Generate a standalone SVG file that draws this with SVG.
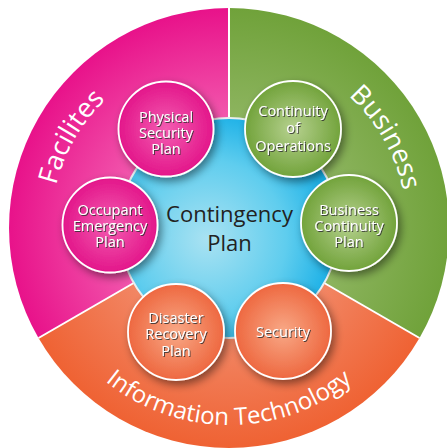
<svg xmlns="http://www.w3.org/2000/svg" width="447" height="448" viewBox="0 0 447 448">
  <defs>
    <radialGradient id="gPink" gradientUnits="userSpaceOnUse" cx="229" cy="228" r="220">
      <stop offset="0.5" stop-color="#f257ad"/>
      <stop offset="1" stop-color="#e8128a"/>
    </radialGradient>
    <radialGradient id="gGreen" gradientUnits="userSpaceOnUse" cx="229" cy="228" r="220">
      <stop offset="0.5" stop-color="#8db45f"/>
      <stop offset="1" stop-color="#70a23a"/>
    </radialGradient>
    <radialGradient id="gOrange" gradientUnits="userSpaceOnUse" cx="229" cy="228" r="220">
      <stop offset="0.5" stop-color="#f28664"/>
      <stop offset="1" stop-color="#ef6233"/>
    </radialGradient>
    <radialGradient id="gBlue" cx="0.4" cy="0.55" r="0.6">
      <stop offset="0" stop-color="#a9e2f2"/>
      <stop offset="0.6" stop-color="#5fcdee"/>
      <stop offset="1" stop-color="#16aee6"/>
    </radialGradient>
    <radialGradient id="cPink" cx="0.5" cy="0.5" r="0.5">
      <stop offset="0" stop-color="#f35cb1"/>
      <stop offset="1" stop-color="#e3168a"/>
    </radialGradient>
    <radialGradient id="cGreen" cx="0.5" cy="0.5" r="0.5">
      <stop offset="0" stop-color="#b6d18f"/>
      <stop offset="1" stop-color="#72a33b"/>
    </radialGradient>
    <radialGradient id="cOrange" cx="0.5" cy="0.5" r="0.5">
      <stop offset="0" stop-color="#f8a886"/>
      <stop offset="1" stop-color="#ee6840"/>
    </radialGradient>
    <filter id="shadow" x="-30%" y="-30%" width="170%" height="170%">
      <feDropShadow dx="3" dy="4" stdDeviation="4" flood-color="#000" flood-opacity="0.45"/>
    </filter>
    <filter id="tshadow" x="-10%" y="-30%" width="130%" height="160%">
      <feDropShadow dx="1" dy="1" stdDeviation="0.4" flood-color="#333" flood-opacity="0.85"/>
    </filter>
    <path id="arcFac" d="M 74.8 317 A 178 178 0 0 1 229 50"/>
    <path id="arcBus" d="M 229 50 A 178 178 0 0 1 383.2 317"/>
    <path id="arcIT" d="M 58.4 326.5 A 197 197 0 0 0 399.6 326.5"/>
    <style>
      .seg-label { font-family: "Open Sans", "DejaVu Sans", sans-serif; fill: #ffffff; }
      .node-circle { stroke: #ffffff; stroke-width: 1.8; filter: url(#shadow); }
      .node-label { font-family: "Open Sans", "DejaVu Sans", sans-serif; font-size: 14.5px; fill: #ffffff; text-anchor: middle; filter: url(#tshadow); }
      .divider { stroke: #ffffff; stroke-width: 2; }
      .center-label { font-family: "Open Sans", "DejaVu Sans", sans-serif; font-size: 22px; fill: #222222; text-anchor: middle; }
    </style>
  </defs>

  <!-- Segments -->
  <g id="segment-facilities">
    <path d="M229,228 L38.5,338 A220,220 0 0 1 229,8 Z" fill="url(#gPink)"/>
    <text class="seg-label" font-size="27"><textPath href="#arcFac" startOffset="50%" text-anchor="middle">Facilites</textPath></text>
  </g>
  <g id="segment-business">
    <path d="M229,228 L229,8 A220,220 0 0 1 419.5,338 Z" fill="url(#gGreen)"/>
    <text class="seg-label" font-size="27"><textPath href="#arcBus" startOffset="50%" text-anchor="middle">Business</textPath></text>
  </g>
  <g id="segment-it">
    <path d="M229,228 L419.5,338 A220,220 0 0 1 38.5,338 Z" fill="url(#gOrange)"/>
    <text class="seg-label" font-size="24"><textPath href="#arcIT" startOffset="50%" text-anchor="middle">Information Technology</textPath></text>
  </g>

  <g id="dividers">
    <line class="divider" x1="229" y1="228" x2="229" y2="8"/>
    <line class="divider" x1="229" y1="228" x2="419.5" y2="338"/>
    <line class="divider" x1="229" y1="228" x2="38.5" y2="338"/>
  </g>

  <!-- Center node -->
  <g id="node-contingency-plan">
    <circle cx="229" cy="228" r="110" fill="url(#gBlue)" stroke="#e8eef0" stroke-width="2"/>
    <text class="center-label" x="229.5" y="222">Contingency</text>
    <text class="center-label" x="229.5" y="251">Plan</text>
  </g>

  <!-- Outer nodes -->
  <g id="node-physical-security-plan">
    <circle class="node-circle" cx="166" cy="129" r="47.5" fill="url(#cPink)"/>
    <text class="node-label" x="166" y="122">Physical</text>
    <text class="node-label" x="166" y="138">Security</text>
    <text class="node-label" x="166" y="154">Plan</text>
  </g>
  <g id="node-occupant-emergency-plan">
    <circle class="node-circle" cx="110" cy="225" r="47.5" fill="url(#cPink)"/>
    <text class="node-label" x="110" y="215">Occupant</text>
    <text class="node-label" x="110" y="231">Emergency</text>
    <text class="node-label" x="110" y="247">Plan</text>
  </g>
  <g id="node-disaster-recovery-plan">
    <circle class="node-circle" cx="176" cy="332" r="48" fill="url(#cOrange)"/>
    <text class="node-label" x="176" y="323">Disaster</text>
    <text class="node-label" x="176" y="339">Recovery</text>
    <text class="node-label" x="176" y="356">Plan</text>
  </g>
  <g id="node-security">
    <circle class="node-circle" cx="283" cy="331" r="48" fill="url(#cOrange)"/>
    <text class="node-label" x="283" y="337">Security</text>
  </g>
  <g id="node-business-continuity-plan">
    <circle class="node-circle" cx="349" cy="223" r="48" fill="url(#cGreen)"/>
    <text class="node-label" x="349" y="215">Business</text>
    <text class="node-label" x="349" y="231">Continuity</text>
    <text class="node-label" x="349" y="247">Plan</text>
  </g>
  <g id="node-continuity-of-operations">
    <circle class="node-circle" cx="293" cy="129" r="48" fill="url(#cGreen)"/>
    <text class="node-label" x="293" y="116">Continuity</text>
    <text class="node-label" x="293" y="133">of</text>
    <text class="node-label" x="293" y="151">Operations</text>
  </g>
</svg>
